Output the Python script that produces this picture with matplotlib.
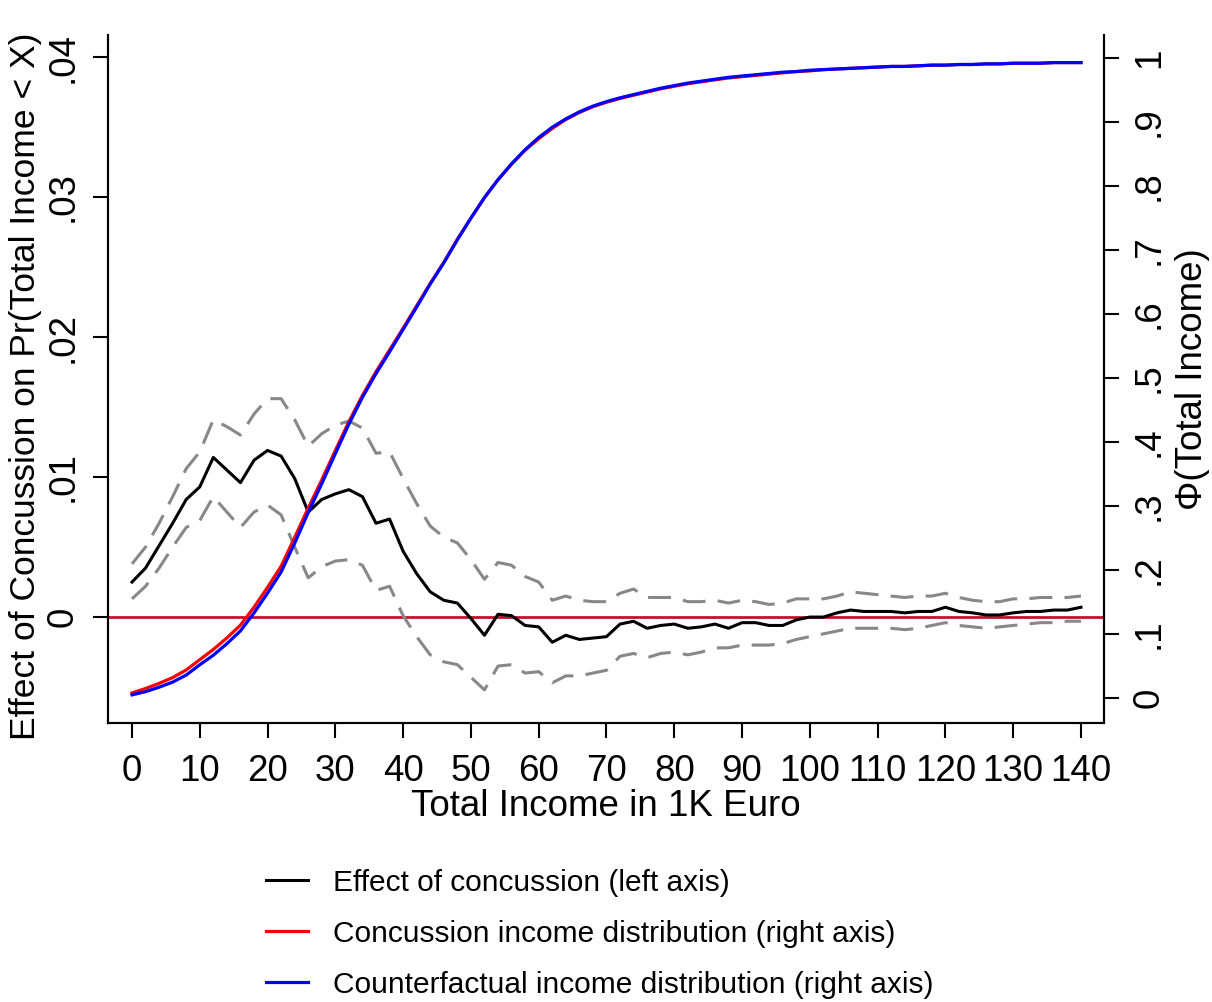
import numpy as np
import matplotlib
matplotlib.use("Agg")
import matplotlib.pyplot as plt

plt.rcParams["font.family"] = ["Liberation Sans", "DejaVu Sans"]

# =========================
# dados
# =========================

income = np.arange(0, 141, 2)

effect = [0.0025, 0.0035, 0.0051, 0.0067, 0.0084, 0.0093, 0.0114, 0.0105, 0.0096, 0.0112,
          0.0119, 0.0115, 0.0099, 0.0075, 0.0084, 0.0088, 0.0091, 0.0086, 0.0067, 0.0070,
          0.0047, 0.0031, 0.0018, 0.0012, 0.0010, -0.0001, -0.0013, 0.0002, 0.0001, -0.0006,
          -0.0007, -0.0018, -0.0013, -0.0016, -0.0015, -0.0014, -0.0005, -0.0003, -0.0008, -0.0006,
          -0.0005, -0.0008, -0.0007, -0.0005, -0.0008, -0.0004, -0.0004, -0.0006, -0.0006, -0.0002,
          0.0000, 0.0000, 0.0003, 0.0005, 0.0004, 0.0004, 0.0004, 0.0003, 0.0004, 0.0004,
          0.0007, 0.0004, 0.0003, 0.00015, 0.00015, 0.0003, 0.0004, 0.0004, 0.0005, 0.0005,
          0.0007]

ci_upper = [0.0038, 0.0050, 0.0067, 0.0086, 0.0106, 0.0118, 0.0141, 0.0136, 0.0130, 0.0145,
            0.0156, 0.0156, 0.0141, 0.0122, 0.0131, 0.0137, 0.0140, 0.0135, 0.0117, 0.0118,
            0.0099, 0.0081, 0.0065, 0.0057, 0.0053, 0.0041, 0.0027, 0.0039, 0.0037, 0.0029,
            0.0025, 0.0012, 0.0015, 0.0012, 0.0011, 0.0011, 0.0017, 0.0020, 0.0014, 0.0014,
            0.0014, 0.0011, 0.0011, 0.0012, 0.0010, 0.0012, 0.0011, 0.0009, 0.0010, 0.0013,
            0.0013, 0.0013, 0.0015, 0.0018, 0.0017, 0.0016, 0.0015, 0.0014, 0.0015, 0.0015,
            0.0017, 0.0014, 0.0012, 0.0011, 0.0011, 0.0013, 0.0013, 0.0014, 0.0014, 0.0014,
            0.0015]

ci_lower = [0.0013, 0.0022, 0.0035, 0.0050, 0.0064, 0.0069, 0.0086, 0.0075, 0.0064, 0.0075,
            0.0080, 0.0073, 0.0050, 0.0028, 0.0036, 0.0040, 0.0041, 0.0037, 0.0019, 0.0022,
            0.0001, -0.0014, -0.0027, -0.0032, -0.0034, -0.0043, -0.0052, -0.0035, -0.0034, -0.0040,
            -0.0039, -0.0047, -0.0042, -0.0042, -0.0040, -0.0038, -0.0028, -0.0026, -0.0029, -0.0026,
            -0.0025, -0.0027, -0.0025, -0.0022, -0.0022, -0.0020, -0.0020, -0.0020, -0.0019, -0.0016,
            -0.0014, -0.0012, -0.0010, -0.0008, -0.0008, -0.0008, -0.0008, -0.0009, -0.0008, -0.0006,
            -0.0004, -0.0006, -0.0007, -0.0008, -0.0007, -0.0006, -0.0005, -0.0004, -0.0004, -0.0003,
            -0.0003]

cdf_concussion = [0.008, 0.015, 0.023, 0.032, 0.044, 0.060, 0.076, 0.094, 0.114, 0.142,
                  0.173, 0.206, 0.251, 0.297, 0.341, 0.387, 0.432, 0.473, 0.510, 0.544,
                  0.578, 0.613, 0.648, 0.681, 0.717, 0.750, 0.782, 0.810, 0.834, 0.856,
                  0.874, 0.890, 0.904, 0.915, 0.924, 0.931, 0.937, 0.942, 0.947, 0.952,
                  0.956, 0.960, 0.963, 0.966, 0.969, 0.971, 0.973, 0.975, 0.977, 0.979,
                  0.980, 0.982, 0.983, 0.984, 0.985, 0.986, 0.987, 0.987, 0.988, 0.989,
                  0.989, 0.990, 0.990, 0.991, 0.991, 0.992, 0.992, 0.992, 0.993, 0.993,
                  0.993]

cdf_counterfactual = [0.005, 0.010, 0.017, 0.025, 0.036, 0.052, 0.067, 0.085, 0.105, 0.133,
                      0.164, 0.197, 0.242, 0.290, 0.335, 0.382, 0.428, 0.470, 0.507, 0.541,
                      0.576, 0.611, 0.647, 0.680, 0.716, 0.750, 0.782, 0.810, 0.835, 0.857,
                      0.876, 0.892, 0.905, 0.916, 0.925, 0.932, 0.938, 0.943, 0.948, 0.953,
                      0.957, 0.961, 0.964, 0.967, 0.970, 0.972, 0.974, 0.976, 0.978, 0.979,
                      0.981, 0.982, 0.983, 0.984, 0.985, 0.986, 0.987, 0.987, 0.988, 0.989,
                      0.989, 0.990, 0.990, 0.991, 0.991, 0.992, 0.992, 0.992, 0.993, 0.993,
                      0.993]

xticks = list(range(0, 141, 10))
left_ticks = [0, 0.01, 0.02, 0.03, 0.04]
left_labels = ["0", ".01", ".02", ".03", ".04"]
right_ticks = [0, 0.1, 0.2, 0.3, 0.4, 0.5, 0.6, 0.7, 0.8, 0.9, 1]
right_labels = ["0", ".1", ".2", ".3", ".4", ".5", ".6", ".7", ".8", ".9", "1"]

# =========================
# figura
# =========================

fs = 26.5
fig = plt.figure(figsize=(12.12, 10.02), dpi=100)
ax = fig.add_axes([0.0891, 0.2784, 0.8218, 0.6866])
ax2 = ax.twinx()

ax.axhline(0, color="#c8102e", lw=2.0, zorder=1)
ax.plot(income, ci_upper, color="#888888", lw=2.2, dashes=(7.5, 4))
ax.plot(income, ci_lower, color="#888888", lw=2.2, dashes=(7.5, 4))
l1, = ax.plot(income, effect, color="black", lw=2.2, label="Effect of concussion (left axis)")

l2, = ax2.plot(income, cdf_concussion, color="red", lw=2.3,
               label="Concussion income distribution (right axis)")
l3, = ax2.plot(income, cdf_counterfactual, color="blue", lw=2.3,
               label="Counterfactual income distribution (right axis)")

ax.set_xlim(-3.54, 143.4)
ax.set_ylim(-0.00757, 0.04157)
ax2.set_ylim(-0.039, 1.036)

ax.set_xticks(xticks)
ax.set_yticks(left_ticks)
ax.set_yticklabels(left_labels, rotation=90, va="center")
ax2.set_yticks(right_ticks)
ax2.set_yticklabels(right_labels, rotation=90, va="center")

for a in (ax, ax2):
    a.spines["top"].set_visible(False)
    for s in ("left", "right", "bottom"):
        a.spines[s].set_linewidth(1.5)
    a.tick_params(direction="out", length=11, width=1.5, labelsize=fs, pad=9)
ax.tick_params(axis="x", pad=11)

ax.set_xlabel("Total Income in 1K Euro", fontsize=fs, labelpad=0)
ax.set_ylabel("Effect of Concussion on Pr(Total Income < X)", fontsize=25.5)
ax.yaxis.set_label_coords(-0.066, 0.49)
ax2.set_ylabel("Φ(Total Income)", fontsize=fs, rotation=90, labelpad=6)

fig.legend(handles=[l1, l2, l3], loc="upper center", bbox_to_anchor=(0.495, 0.148),
           frameon=False, fontsize=21.5, handlelength=1.4, handletextpad=0.85,
           labelspacing=0.77, borderpad=0)

fig.savefig("out.png", dpi=100)
